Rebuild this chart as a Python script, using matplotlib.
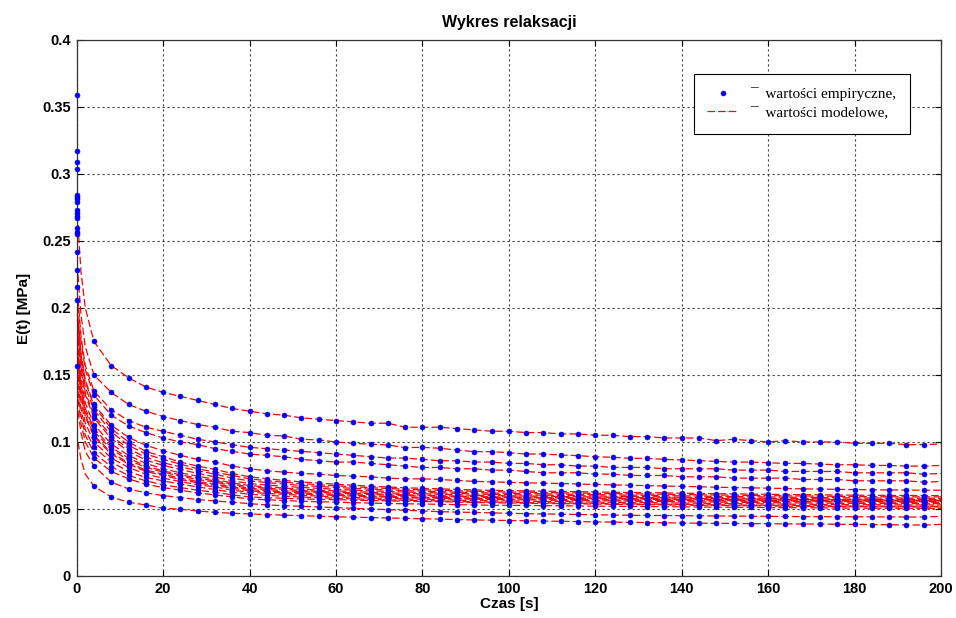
import matplotlib
matplotlib.use('Agg')
from matplotlib import pyplot as plt
import numpy as np

# sample times of the measured points [s]
t_emp = list(range(0, 200, 4))

# measured E(t) for each test, in 1e-3 MPa (t = 0, 4, 8, ..., 196)
e01 = [359, 175, 157, 148, 141, 137, 134, 131, 128, 125, 123, 121, 120, 118, 117, 116, 115, 114, 114, 111,
       111, 111, 110, 109, 108, 108, 107, 107, 106, 106, 105, 105, 104, 104, 103, 103, 103, 101, 102, 101,
       100, 101, 100, 100, 100, 99, 99, 99, 98, 98]
e02 = [317, 150, 137, 128, 123, 119, 116, 113, 111, 108, 107, 105, 104.5, 102, 101.5, 100, 99, 98.3, 97.8, 95.8,
       96, 95.3, 94, 92.8, 92.8, 92, 91, 91, 90.3, 89.8, 89, 88.6, 87.8, 87.8, 87, 86.6, 86, 85.5, 85, 85,
       84.5, 84, 84, 83.5, 83, 83, 82.5, 82.5, 82, 82]
e03 = [309, 138, 124, 116, 111, 108, 105, 102, 100, 98, 96, 95, 94, 93, 92, 91, 90, 89, 88, 88,
       87, 86, 86, 85, 85, 84, 84, 83, 83, 82, 82, 81, 81, 81, 80, 80, 80, 80, 79, 79,
       79, 78, 78, 78, 78, 77, 77, 77, 77, 76]
e04 = [304, 135, 120, 112, 107, 103, 100, 98, 95, 93, 91, 90, 89, 87, 86, 85, 85, 84, 83, 82,
       81, 81, 80, 80, 79, 79, 78, 77, 77, 77, 76, 76, 75, 75, 75, 74, 74, 74, 73, 73,
       73, 73, 72, 72, 72, 71, 71, 71, 71, 70]
e05 = [284, 128, 112.5, 103.5, 97.5, 93.5, 90, 87, 85, 82, 80, 78.5, 77.5, 76.5, 76, 75, 74.5, 74, 73, 72.5,
       72.5, 72, 71.3, 70.6, 70.2, 69.9, 69.5, 69.3, 69, 68.6, 68.3, 68, 67.7, 67.4, 67.1, 66.9, 66.6, 66.2, 66, 65.8,
       65.5, 65.3, 65, 64.9, 64.6, 64.5, 64.3, 64.2, 64.1, 64]
e06 = [283, 127, 110, 100, 93, 89, 85, 82, 79.5, 76.5, 74, 72.6, 71.3, 70.2, 69.3, 68.5, 67.7, 67, 66.4, 65.8,
       65.4, 65, 64.6, 64.2, 63.9, 63.7, 63.5, 63.3, 63.1, 62.9, 62.7, 62.5, 62.3, 62.2, 62, 61.8, 61.6, 61.4, 61.3, 61.1,
       61, 60.8, 60.7, 60.6, 60.4, 60.3, 60.2, 60.1, 60.1, 60]
e07 = [281, 124, 107.5, 97.5, 91, 87, 83.5, 80, 77.5, 75, 72.5, 71.1, 70, 68.9, 68.1, 67.3, 66.6, 65.9, 65.3, 64.8,
       64.3, 64, 63.6, 63.2, 62.9, 62.7, 62.5, 62.3, 62.1, 61.9, 61.7, 61.5, 61.3, 61.2, 61, 60.8, 60.6, 60.4, 60.3, 60.1,
       60, 59.8, 59.7, 59.6, 59.4, 59.3, 59.2, 59.1, 59.1, 59]
e08 = [279, 120, 104.5, 95, 88.5, 84.5, 81.5, 78.5, 76, 73, 71, 69.7, 68.6, 67.6, 66.8, 66.1, 65.4, 64.8, 64.2, 63.7,
       63.3, 63, 62.6, 62.2, 61.9, 61.7, 61.5, 61.3, 61.1, 60.9, 60.7, 60.5, 60.3, 60.2, 60, 59.8, 59.6, 59.4, 59.3, 59.1,
       59, 58.8, 58.7, 58.6, 58.4, 58.3, 58.2, 58.1, 58.1, 58]
e09 = [273, 118, 102.5, 93, 86.5, 82.5, 79.5, 76.5, 74, 71, 69, 67.9, 66.9, 66.1, 65.4, 64.7, 64.1, 63.5, 63.1, 62.6,
       62.3, 62, 61.6, 61.2, 60.9, 60.7, 60.5, 60.3, 60.1, 59.9, 59.7, 59.5, 59.3, 59.2, 59, 58.8, 58.6, 58.4, 58.3, 58.1,
       58, 57.8, 57.7, 57.6, 57.4, 57.3, 57.2, 57.1, 57.1, 57]
e10 = [271, 113, 98.5, 90, 84, 80, 77, 74.5, 72, 69.5, 67.5, 66.5, 65.6, 64.8, 64.1, 63.5, 63, 62.4, 62, 61.6,
       61.3, 61, 60.6, 60.2, 60, 59.8, 59.6, 59.5, 59.3, 59.1, 58.9, 58.8, 58.6, 58.4, 58.3, 58.1, 57.9, 57.8, 57.6, 57.5,
       57.4, 57.2, 57.1, 57, 56.9, 56.8, 56.7, 56.6, 56.5, 56.5]
e11 = [269, 110, 96, 88, 82, 78.5, 75.5, 73, 71, 68.5, 66.5, 65.5, 64.6, 63.8, 63.1, 62.5, 62, 61.4, 61, 60.6,
       60.3, 60, 59.6, 59.3, 59.1, 59, 58.8, 58.6, 58.5, 58.3, 58.2, 58, 57.8, 57.7, 57.6, 57.4, 57.3, 57.1, 57, 56.9,
       56.8, 56.6, 56.5, 56.4, 56.3, 56.2, 56.2, 56.1, 56, 56]
e12 = [267, 108, 94.5, 86.5, 81, 77.5, 74.5, 72, 70, 67.5, 65.5, 64.5, 63.7, 63, 62.4, 61.8, 61.3, 60.8, 60.4, 60,
       59.7, 59.5, 59.1, 58.8, 58.6, 58.5, 58.3, 58.1, 58, 57.8, 57.7, 57.5, 57.3, 57.2, 57.1, 56.9, 56.8, 56.6, 56.5, 56.4,
       56.3, 56.1, 56, 55.9, 55.8, 55.7, 55.7, 55.6, 55.5, 55.5]
e13 = [260, 105, 92, 84.5, 79, 76, 73, 70.5, 68.5, 66.5, 64.5, 63.5, 62.7, 62, 61.4, 60.8, 60.3, 59.8, 59.4, 59,
       58.7, 58.5, 58.2, 57.9, 57.7, 57.6, 57.4, 57.3, 57.2, 57, 56.9, 56.8, 56.6, 56.5, 56.4, 56.3, 56.1, 56, 55.9, 55.8,
       55.7, 55.6, 55.5, 55.4, 55.3, 55.2, 55.1, 55.1, 55, 55]
e14 = [257, 104, 91, 83.5, 78, 75, 72, 69.5, 67.5, 65.5, 63.5, 62.6, 61.9, 61.2, 60.6, 60.1, 59.7, 59.2, 58.8, 58.5,
       58.2, 58, 57.6, 57.3, 57.1, 57, 56.8, 56.6, 56.5, 56.3, 56.2, 56, 55.8, 55.7, 55.6, 55.4, 55.3, 55.1, 55, 54.9,
       54.8, 54.6, 54.5, 54.4, 54.3, 54.2, 54.2, 54.1, 54, 54]
e15 = [255, 100, 88, 81, 76, 73, 70.5, 68, 66.5, 64, 62.5, 61.6, 60.9, 60.2, 59.6, 59.1, 58.7, 58.2, 57.8, 57.5,
       57.2, 57, 56.6, 56.3, 56.1, 56, 55.8, 55.6, 55.5, 55.3, 55.2, 55, 54.8, 54.7, 54.6, 54.4, 54.3, 54.1, 54, 53.9,
       53.8, 53.6, 53.5, 53.4, 53.3, 53.2, 53.2, 53.1, 53, 53]
e16 = [242, 96, 85, 78, 73.5, 71, 68.5, 66.5, 64.5, 62.5, 61, 60.2, 59.5, 58.9, 58.4, 58, 57.5, 57.1, 56.8, 56.5,
       56.2, 56, 55.6, 55.3, 55.1, 55, 54.8, 54.6, 54.5, 54.3, 54.2, 54, 53.8, 53.7, 53.6, 53.4, 53.3, 53.1, 53, 52.9,
       52.8, 52.6, 52.5, 52.4, 52.3, 52.2, 52.2, 52.1, 52, 52]
e17 = [228, 92, 81.5, 75, 71, 68, 66, 64, 62.5, 60.5, 59, 58.4, 58, 57.5, 57.2, 56.9, 56.6, 56.3, 56, 55.8,
       55.6, 55.5, 55.1, 54.8, 54.6, 54.5, 54.3, 54.1, 54, 53.8, 53.7, 53.5, 53.3, 53.2, 53.1, 52.9, 52.8, 52.6, 52.5, 52.4,
       52.3, 52.1, 52, 51.9, 51.8, 51.7, 51.7, 51.6, 51.5, 51.5]
e18 = [216, 88, 78, 72.5, 68.5, 66, 64, 62, 60.5, 59, 57.5, 56.9, 56.3, 55.8, 55.4, 55.1, 54.7, 54.4, 54.1, 53.9,
       53.7, 53.5, 53.2, 53, 52.8, 52.7, 52.6, 52.5, 52.4, 52.2, 52.1, 52, 51.9, 51.8, 51.7, 51.6, 51.5, 51.3, 51.3, 51.2,
       51.1, 51, 50.9, 50.8, 50.7, 50.7, 50.6, 50.6, 50.5, 50.5]
e19 = [206, 82, 70, 65, 62, 60, 58.5, 57, 56, 55, 54, 53, 52.5, 52, 51.5, 51, 50.5, 50, 49.5, 49,
       48.5, 48, 47.7, 47.4, 47.1, 46.8, 46.5, 46.3, 46.1, 45.9, 45.7, 45.5, 45.3, 45.2, 45.1, 45, 44.9, 44.8, 44.7, 44.6,
       44.5, 44.4, 44.3, 44.3, 44.2, 44.2, 44.1, 44.1, 44, 44]
e20 = [157, 67, 59, 55, 53, 50.5, 49.8, 48.5, 47.5, 46.8, 46.3, 45.8, 45.4, 45, 44.6, 44.2, 43.9, 43.6, 43.3, 43,
       42.7, 42.4, 42.1, 41.8, 41.6, 41.4, 41.2, 41, 40.8, 40.6, 40.4, 40.2, 40, 39.9, 39.7, 39.5, 39.4, 39.3, 39.2, 39.1,
       39, 38.9, 38.8, 38.7, 38.6, 38.5, 38.4, 38.2, 38.1, 38]

# fitted model, start of each curve (t = 0.3, 1, 2 s) and end (t = 200 s), 1e-3 MPa
model_t_head = [0.3, 1, 2]
model_03 = [262, 225, 207, 202, 192, 190, 186, 180, 177, 170, 165, 162, 158, 156, 150, 144, 138, 132, 123, 100]
model_1 = [227, 195, 179, 175, 166, 165, 161, 156, 153, 147, 143, 140, 137, 135, 130, 125, 120, 114, 107, 87]
model_2 = [200, 171, 157, 154, 146, 145, 141, 137, 135, 129, 125, 123, 120, 119, 114, 109, 105, 100, 93, 76]
model_200 = [98.5, 82.5, 76.5, 70.5, 64, 60, 59, 58, 57, 56.5, 56, 55.5, 55, 54, 53, 52, 51.5, 50.5, 44.5, 38.5]

emp = [e01, e02, e03, e04, e05, e06, e07, e08, e09, e10,
       e11, e12, e13, e14, e15, e16, e17, e18, e19, e20]

plt.rcParams['font.family'] = ['Liberation Sans', 'DejaVu Sans']

fig = plt.figure(figsize=(9.56, 6.18), dpi=100)
ax = fig.add_axes([0.0802, 0.068, 0.9041, 0.8673])

for i, e in enumerate(emp):
    mt = model_t_head + t_emp[1:] + [200]
    mv = [model_03[i], model_1[i], model_2[i]] + e[1:] + [model_200[i]]
    lm, = ax.plot(mt, np.array(mv) / 1000.0, color='red', lw=0.9, dashes=(6, 2.5), zorder=2)
    pe, = ax.plot(t_emp, np.array(e) / 1000.0, ls='none', marker='o', ms=3.6, mfc='blue', mec='blue',
                  mew=0.4, zorder=3, clip_on=False)

ax.set_xlim(0, 200)
ax.set_ylim(0, 0.4)
ax.set_xticks(np.arange(0, 201, 20))
ax.set_yticks(np.arange(0, 0.41, 0.05))
ax.set_yticklabels(['0', '0.05', '0.1', '0.15', '0.2', '0.25', '0.3', '0.35', '0.4'])
ax.tick_params(direction='in', top=True, right=True, length=4, width=0.8, labelsize=10.5, pad=4)
for lab in ax.get_xticklabels() + ax.get_yticklabels():
    lab.set_fontweight('bold')
ax.grid(True, color='#444444', lw=0.8, ls=(0, (2, 2.5)))
for s in ax.spines.values():
    s.set_color('#333333')
    s.set_linewidth(0.9)

ax.set_title('Wykres relaksacji', fontsize=11.5, fontweight='bold', pad=9)
ax.set_xlabel('Czas [s]', fontsize=11, fontweight='bold', labelpad=1)
ax.set_ylabel('E(t) [MPa]', fontsize=11, fontweight='bold', labelpad=8)

leg = ax.legend([pe, lm], ['¯  wartości empiryczne,', '¯  wartości modelowe,'],
                loc='upper right', bbox_to_anchor=(0.973, 0.951), fancybox=False,
                edgecolor='black', framealpha=1, handlelength=2.0, borderpad=0.9,
                labelspacing=0.3, prop={'family': 'Liberation Serif', 'size': 11})
leg.get_frame().set_linewidth(0.8)

fig.savefig('out.png', dpi=100)
